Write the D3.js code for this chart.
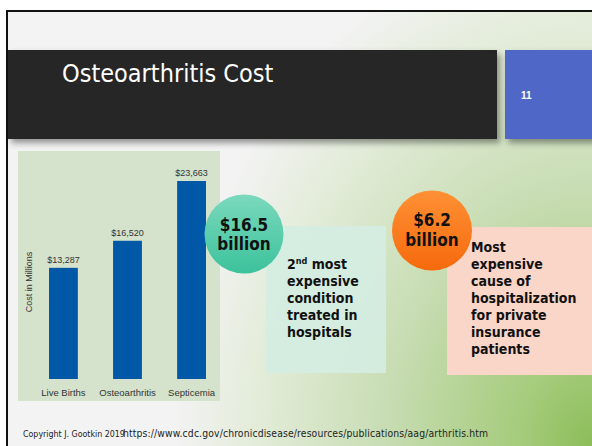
<!DOCTYPE html>
<html><head><meta charset="utf-8">
<script src="https://cdn.jsdelivr.net/npm/d3@7"></script>
<style>body{margin:0;padding:0;background:#fff;}svg{display:block;}</style>
</head><body>
<svg id="c" width="592" height="446"></svg>
<script>
const categories = ["Live Births", "Osteoarthritis", "Septicemia"];
const costs = [13287, 16520, 23663];
const valueLabels = ["$13,287", "$16,520", "$23,663"];
const titleText = "Osteoarthritis Cost";
const slideNumber = "11";
const leftCircle = ["$16.5", "billion"];
const leftBoxLines = ["2|nd| most", "expensive", "condition", "treated in", "hospitals"];
const rightCircle = ["$6.2", "billion"];
const rightBoxLines = ["Most", "expensive", "cause of", "hospitalization", "for private", "insurance", "patients"];
const footer = "Copyright J. Gootkin 2019";
const footerUrl = "https://www.cdc.gov/chronicdisease/resources/publications/aag/arthritis.htm";

const svg = d3.select("#c");
const defs = svg.append("defs");
const bg = defs.append("radialGradient").attr("id","bg").attr("gradientUnits","userSpaceOnUse")
  .attr("cx",0).attr("cy",0).attr("r",1).attr("gradientTransform","translate(592,446) scale(420,520)");
bg.append("stop").attr("offset","0").attr("stop-color","#8cbd58");
bg.append("stop").attr("offset","0.18").attr("stop-color","#a6cc7d");
bg.append("stop").attr("offset","0.5").attr("stop-color","#c8ddb4");
bg.append("stop").attr("offset","0.8").attr("stop-color","#e3ecd9");
bg.append("stop").attr("offset","1").attr("stop-color","#f3f3f3");
const gc = defs.append("linearGradient").attr("id","gc").attr("x1","0").attr("y1","0").attr("x2","0").attr("y2","1");
gc.append("stop").attr("offset","0").attr("stop-color","#7bd9bd");
gc.append("stop").attr("offset","1").attr("stop-color","#3cc29c");
const oc = defs.append("linearGradient").attr("id","oc").attr("x1","0").attr("y1","0").attr("x2","0").attr("y2","1");
oc.append("stop").attr("offset","0").attr("stop-color","#ff9035");
oc.append("stop").attr("offset","1").attr("stop-color","#f56a0c");
const sh = defs.append("filter").attr("id","sh").attr("x","-0.1").attr("y","-0.1").attr("width","1.2").attr("height","1.3");
sh.append("feDropShadow").attr("dx","3").attr("dy","4").attr("stdDeviation","3").attr("flood-color","#000").attr("flood-opacity","0.4");

// slide background
svg.append("rect").attr("x",8).attr("y",12).attr("width",584).attr("height",434).attr("fill","url(#bg)");
svg.append("rect").attr("x",6).attr("y",10).attr("width",586).attr("height",2).attr("fill","#111");
svg.append("rect").attr("x",6).attr("y",10).attr("width",2).attr("height",436).attr("fill","#111");

// title bar
svg.append("rect").attr("x",8).attr("y",50).attr("width",489).attr("height",89).attr("fill","#262626").attr("filter","url(#sh)");
svg.append("rect").attr("x",505).attr("y",50).attr("width",92).attr("height",89).attr("fill","#4f67c8").attr("filter","url(#sh)");
svg.append("text").attr("x",62).attr("y",82).attr("fill","#fff")
  .attr("font-family","DejaVu Sans Condensed, DejaVu Sans").attr("font-size",25).text(titleText);
svg.append("text").attr("x",521).attr("y",99).attr("fill","#fff")
  .attr("font-family","Liberation Sans, Arial").attr("font-weight","bold").attr("font-size",10).text(slideNumber);

// chart panel
svg.append("rect").attr("x",18).attr("y",151).attr("width",202).attr("height",250).attr("fill","#d5e3cc");
const x = d3.scaleBand().domain(categories).range([33,222]).paddingInner(0.55).paddingOuter(0.25);
const y = d3.scaleLinear().domain([0, 23663]).range([379, 181]);
const g = svg.append("g");
g.selectAll("rect.bar").data(costs).join("rect").attr("class","bar")
  .attr("x",(d,i)=>x(categories[i])).attr("width",x.bandwidth())
  .attr("y",d=>y(d)).attr("height",d=>y(0)-y(d)).attr("fill","#0058a6");
g.selectAll("text.val").data(costs).join("text").attr("class","val")
  .attr("x",(d,i)=>x(categories[i])+x.bandwidth()/2).attr("y",d=>y(d)-5)
  .attr("text-anchor","middle").attr("font-family","Liberation Sans, Arial").attr("font-size",9).attr("fill","#333")
  .text((d,i)=>valueLabels[i]);
const xAxis = g.append("g").attr("transform","translate(0,379)").call(d3.axisBottom(x).tickSize(0).tickPadding(10));
xAxis.select(".domain").remove();
xAxis.selectAll("text").attr("font-family","Liberation Sans, Arial").attr("font-size",9.5).attr("fill","#333");
g.append("text").attr("transform","translate(32,282) rotate(-90)").attr("text-anchor","middle")
  .attr("font-family","Liberation Sans, Arial").attr("font-size",9).attr("fill","#333").text("Cost in Millions");

// boxes
svg.append("rect").attr("x",266).attr("y",226).attr("width",120).attr("height",147).attr("fill","#d4ede2").attr("opacity",0.9);
svg.append("rect").attr("x",447).attr("y",227).attr("width",145).attr("height",148).attr("fill","#fad6c8");

const bodyFont = "DejaVu Sans Condensed, DejaVu Sans";
// circles
svg.append("circle").attr("cx",244).attr("cy",234).attr("r",39.5).attr("fill","url(#gc)");
svg.append("circle").attr("cx",432).attr("cy",230.5).attr("r",40).attr("fill","url(#oc)");
function circleText(lines, cx, ys){
  lines.forEach((t,i)=>svg.append("text").attr("x",cx).attr("y",ys[i]).attr("text-anchor","middle")
    .attr("font-family",bodyFont).attr("font-weight","bold").attr("font-size",17).attr("fill","#111").text(t));
}
circleText(leftCircle, 244, [231, 250]);
circleText(rightCircle, 432, [226, 246]);

function boxText(lines, x0, y0, dy){
  lines.forEach((t,i)=>{
    const tx = svg.append("text").attr("x",x0).attr("y",y0+i*dy).attr("font-family",bodyFont)
      .attr("font-weight","bold").attr("font-size",14).attr("fill","#111");
    const parts = t.split("|");
    if(parts.length===3){
      tx.append("tspan").text(parts[0]);
      tx.append("tspan").attr("font-size",9).attr("dy",-5).text(parts[1]);
      tx.append("tspan").attr("dy",5).text(parts[2]);
    } else tx.text(t);
  });
}
boxText(leftBoxLines, 287, 269, 17);
boxText(rightBoxLines, 471, 252, 17);

// footer
svg.append("text").attr("x",23).attr("y",437).attr("font-family",bodyFont).attr("font-size",8.8)
  .attr("fill","#222").text(footer);
svg.append("text").attr("x",123).attr("y",437).attr("font-family",bodyFont).attr("font-size",10.3)
  .attr("textLength",365).attr("lengthAdjust","spacing").attr("fill","#222").text(footerUrl);
</script>
</body></html>
